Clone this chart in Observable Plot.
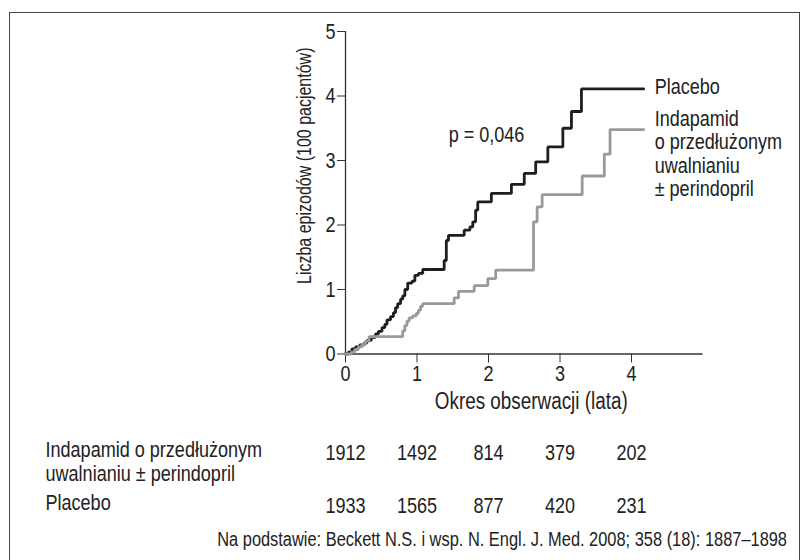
<!DOCTYPE html>
<html>
<head>
<meta charset="utf-8">
<script src="https://cdn.jsdelivr.net/npm/d3@7"></script>
<script src="https://cdn.jsdelivr.net/npm/@observablehq/plot@0.6"></script>
<style>
  body { margin: 0; background: #fff; }
  #frame { position: absolute; left: 9px; top: 12px; width: 789px; height: 600px; border: 1.5px solid #444; }
  #chart { position: absolute; left: 0; top: 0; }
  #table { position: absolute; left: 0; top: 420px; }
</style>
</head>
<body>
<div id="frame"></div>
<div id="chart"></div>
<div id="table"></div>
<script>
// ---- data ----
const placeboName = "Placebo";
const indaName = "Indapamid\no przedłużonym\nuwalnianiu\n± perindopril";

const placeboT = [0, 0.04, 0.09, 0.14, 0.2, 0.26, 0.3, 0.36, 0.42, 0.46, 0.51, 0.55, 0.58, 0.63, 0.67, 0.7, 0.73, 0.77, 0.8, 0.83, 0.87, 0.93, 0.97, 1.02, 1.08, 1.38, 1.41, 1.44, 1.66, 1.74, 1.78, 1.82, 1.85, 2.04, 2.32, 2.50, 2.66, 2.83, 3.04, 3.16, 3.30, 4.17];
const placeboV = [0, 0.03, 0.08, 0.11, 0.14, 0.17, 0.21, 0.26, 0.31, 0.35, 0.41, 0.46, 0.53, 0.58, 0.64, 0.72, 0.78, 0.85, 0.9, 1.0, 1.1, 1.13, 1.22, 1.25, 1.31, 1.45, 1.76, 1.84, 1.92, 1.97, 2.05, 2.23, 2.36, 2.49, 2.63, 2.80, 2.98, 3.21, 3.50, 3.76, 4.11, 4.11];

const indaT = [0, 0.08, 0.13, 0.18, 0.23, 0.28, 0.33, 0.80, 0.83, 0.86, 0.89, 0.94, 0.99, 1.02, 1.05, 1.08, 1.52, 1.58, 1.80, 1.99, 2.10, 2.63, 2.68, 2.75, 3.31, 3.62, 3.70, 4.17];
const indaV = [0, 0.03, 0.07, 0.11, 0.15, 0.2, 0.27, 0.36, 0.44, 0.51, 0.56, 0.59, 0.63, 0.68, 0.74, 0.78, 0.87, 0.97, 1.06, 1.17, 1.30, 2.05, 2.28, 2.47, 2.76, 3.10, 3.48, 3.48];

const xTicks = [0, 1, 2, 3, 4];
const yTicks = [0, 1, 2, 3, 4, 5];

const tableYears = [0, 1, 2, 3, 4];
const indaAtRisk = [1912, 1492, 814, 379, 202];
const placeboAtRisk = [1933, 1565, 877, 420, 231];
const rowLabelInda = "Indapamid o przedłużonym\nuwalnianiu ± perindopril";
const rowLabelPlacebo = "Placebo";

const xTitle = "Okres obserwacji (lata)";
const yTitle = "Liczba epizodów (100 pacjentów)";
const pText = "p = 0,046";
const sourceText = "Na podstawie: Beckett N.S. i wsp. N. Engl. J. Med. 2008; 358 (18): 1887–1898";

// ---- build tables ----
const curves = [
  ...placeboT.map((t, i) => ({series: placeboName, t, v: placeboV[i]})),
  ...indaT.map((t, i) => ({series: indaName, t, v: indaV[i]}))
];
const colors = {[placeboName]: "#1e1e1e", [indaName]: "#9a9a9a"};

const FONT = "'Liberation Sans', Arial, sans-serif";
const NARROW = 0.82; // emulate a condensed face

function condense(svg) {
  svg.querySelectorAll("text").forEach(t => {
    const spans = t.querySelectorAll("tspan");
    const items = spans.length ? Array.from(spans) : [t];
    items.forEach(el => {
      const L = el.getComputedTextLength();
      if (L > 0) {
        el.setAttribute("textLength", (L * NARROW).toFixed(2));
        el.setAttribute("lengthAdjust", "spacingAndGlyphs");
      }
    });
  });
}

const W = 809;
const mL = 345, mR = 106.5;

const chart = Plot.plot({
  width: W,
  height: 420,
  marginLeft: mL,
  marginRight: mR,
  marginTop: 31,
  marginBottom: 66.5,
  style: {fontFamily: FONT, fontSize: "22px", color: "#222", overflow: "visible"},
  x: {domain: [0, 5]},
  y: {domain: [0, 5]},
  color: {domain: [placeboName, indaName], range: [colors[placeboName], colors[indaName]]},
  marks: [
    Plot.ruleX([0], {stroke: "#333", strokeWidth: 1.3}),
    Plot.ruleY([0], {stroke: "#333", strokeWidth: 1.3}),
    Plot.axisY({ticks: yTicks, tickSize: 8, tickPadding: 2, label: null, tickFormat: d3.format("d"), stroke: "#333"}),
    Plot.axisX({ticks: xTicks, tickSize: 9, tickPadding: 2, label: null, tickFormat: d3.format("d"), stroke: "#333"}),
    Plot.line(curves, {x: "t", y: "v", z: "series", stroke: "series", curve: "step-after", strokeWidth: 2.8, strokeLinejoin: "miter"}),
    Plot.text(curves, Plot.selectLast({
      x: "t", y: "v", z: "series", text: "series",
      filter: d => d.series === placeboName,
      textAnchor: "start", dx: 11, dy: -2, fill: "#222", fontSize: 22
    })),
    Plot.text(curves, Plot.selectLast({
      x: "t", y: "v", z: "series", text: "series",
      filter: d => d.series === indaName,
      textAnchor: "start", lineAnchor: "top", lineHeight: 1.06, dx: 11, dy: -20, fill: "#222", fontSize: 22
    })),
    Plot.text([pText], {frameAnchor: "top-left", dx: 141, dy: 95, textAnchor: "middle", fill: "#222", fontSize: 22}),
    Plot.text([xTitle], {frameAnchor: "bottom", dx: 7, dy: 55, textAnchor: "middle", fill: "#222", fontSize: 23}),
    Plot.text([yTitle], {frameAnchor: "left", rotate: -90, dx: -41, dy: -27, textAnchor: "middle", fill: "#222", fontSize: 19.5})
  ]
});
document.getElementById("chart").appendChild(chart);
condense(chart);

const rows = [
  ...tableYears.map((t, i) => ({row: "inda", t, n: indaAtRisk[i]})),
  ...tableYears.map((t, i) => ({row: "placebo", t, n: placeboAtRisk[i]}))
];
const rowLabels = [{row: "inda", label: rowLabelInda}, {row: "placebo", label: rowLabelPlacebo}];

const table = Plot.plot({
  width: W,
  height: 140,
  marginLeft: mL,
  marginRight: mR,
  marginTop: 0,
  marginBottom: 0,
  style: {fontFamily: FONT, fontSize: "22px", color: "#222", overflow: "visible"},
  x: {domain: [0, 5], axis: null},
  y: {type: "point", domain: ["inda", "placebo"], range: [32, 85], padding: 0, axis: null},
  marks: [
    Plot.text(rows, {x: "t", y: "row", text: d => String(d.n), fill: "#222", fontSize: 22}),
    Plot.text(rowLabels, {y: "row", text: "label", frameAnchor: "left", textAnchor: "start", lineAnchor: "top", lineHeight: 1.08, dx: -300, dy: -12, fill: "#222", fontSize: 22}),
    Plot.text([sourceText], {frameAnchor: "bottom-right", textAnchor: "end", dx: 84, dy: -15, fill: "#222", fontSize: 20})
  ]
});
document.getElementById("table").appendChild(table);
condense(table);
</script>
</body>
</html>
